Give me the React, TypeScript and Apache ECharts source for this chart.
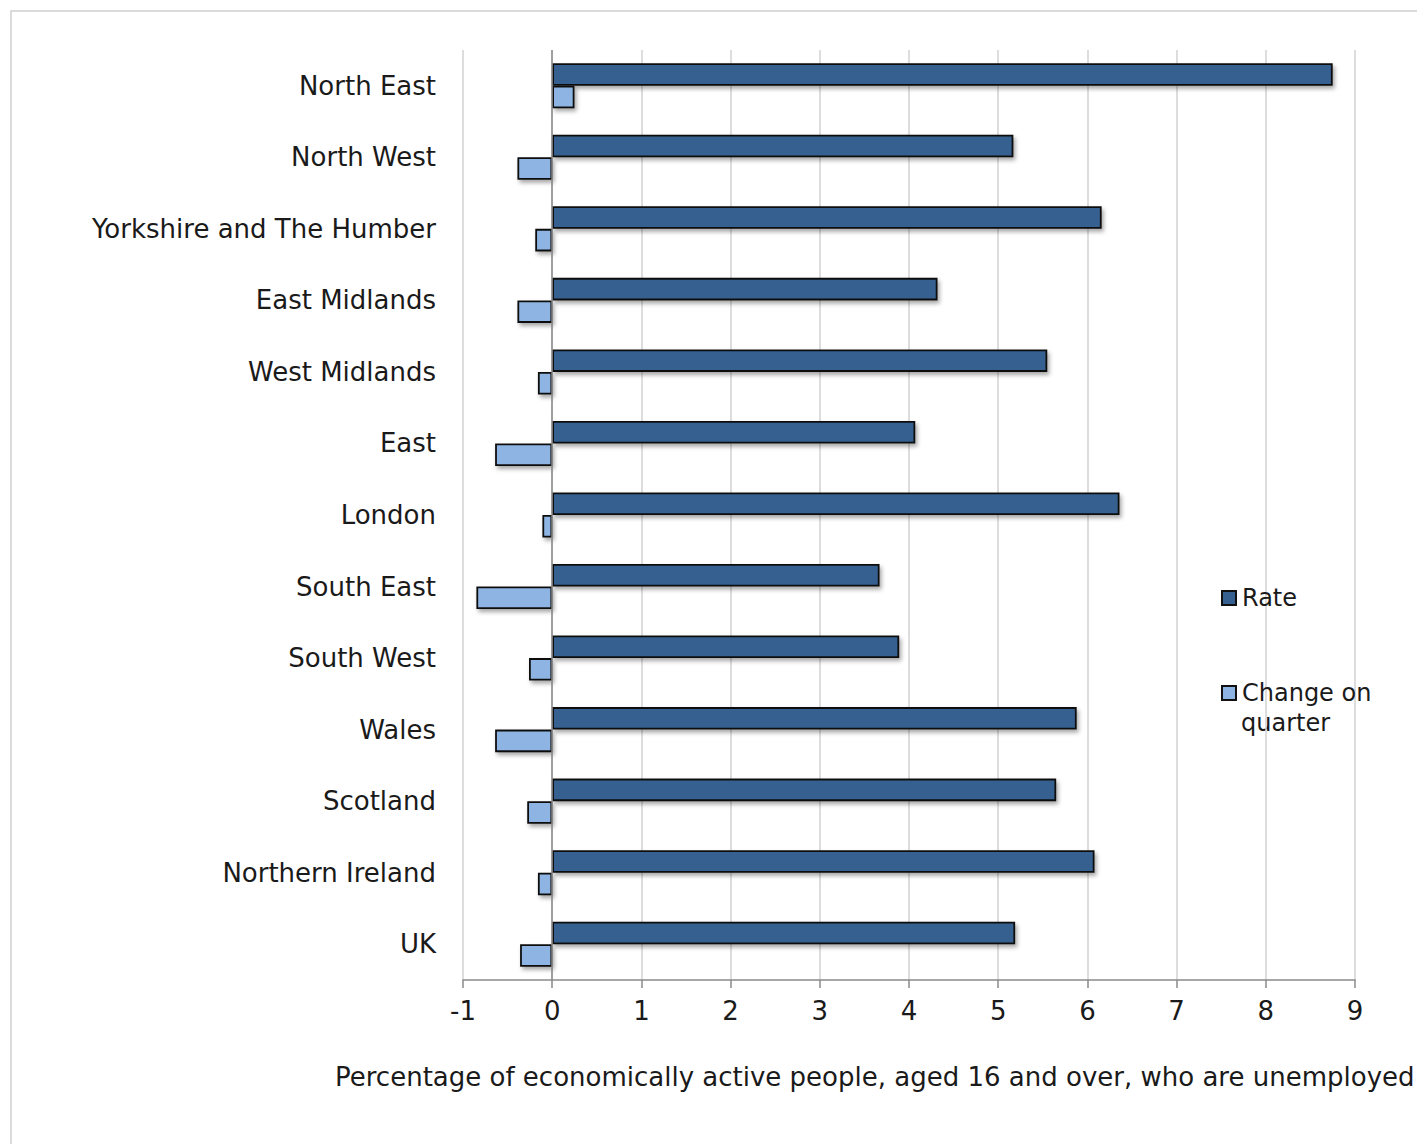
import React, { useEffect, useRef } from "react";
import * as echarts from "echarts";

const categories = [
  "North East",
  "North West",
  "Yorkshire and The Humber",
  "East Midlands",
  "West Midlands",
  "East",
  "London",
  "South East",
  "South West",
  "Wales",
  "Scotland",
  "Northern Ireland",
  "UK",
];

const rateValues = [8.75, 5.17, 6.16, 4.32, 5.55, 4.07, 6.36, 3.67, 3.89, 5.88, 5.65, 6.08, 5.19];
const changeValues = [0.25, -0.39, -0.19, -0.39, -0.16, -0.64, -0.11, -0.85, -0.26, -0.64, -0.28, -0.16, -0.36];

const xTicks = { min: -1, max: 9, interval: 1 };
const xTitle = "Percentage of economically active people, aged 16 and over, who are unemployed";
const seriesNames = ["Rate", "Change on quarter"];
const changeLegendLines = ["Change on", "quarter"];

const FONT = "DejaVu Sans";
const TEXT = "#1a1a1a";

export default function App() {
  const ref = useRef<HTMLDivElement>(null);

  useEffect(() => {
    document.body.style.margin = "0";
    const chart = echarts.init(ref.current!, null, { renderer: "svg" });
    const shadow = {
      shadowColor: "rgba(0,0,0,0.35)",
      shadowBlur: 4,
      shadowOffsetX: 2,
      shadowOffsetY: 3,
    };
    const legendCommon = {
      left: 1221,
      padding: 0,
      orient: "vertical",
      icon: "rect",
      itemWidth: 14,
      itemHeight: 14,
      textStyle: { fontSize: 24, color: TEXT, fontFamily: FONT, lineHeight: 30, padding: [0, 0, 0, 1] },
    };
    chart.setOption({
      animation: false,
      backgroundColor: "#ffffff",
      textStyle: { fontFamily: FONT },
      grid: { left: 463, right: 62, top: 50, bottom: 164, containLabel: false },
      legend: [
        { ...legendCommon, data: [seriesNames[0]], top: 583 },
        {
          ...legendCommon,
          data: [seriesNames[1]],
          top: 678,
          formatter: () => changeLegendLines[0],
        },
      ],
      xAxis: {
        type: "value",
        min: xTicks.min,
        max: xTicks.max,
        interval: xTicks.interval,
        axisLine: { show: true, lineStyle: { color: "#8a8a8a", width: 1.5 } },
        axisTick: { show: true, length: 8, lineStyle: { color: "#8a8a8a", width: 1.5 } },
        axisLabel: { fontSize: 26, color: TEXT, fontFamily: FONT, margin: 18 },
        splitLine: { show: true, lineStyle: { color: "#d2d2d2", width: 1.5 } },
      },
      yAxis: {
        type: "category",
        data: categories,
        inverse: true,
        axisLine: { show: false, onZero: false },
        axisTick: { show: false },
        axisLabel: { fontSize: 26, color: TEXT, fontFamily: FONT, margin: 27 },
        splitLine: { show: false },
      },
      graphic: [
        {
          type: "rect",
          shape: { x: 11, y: 11, width: 1430, height: 1160 },
          style: { fill: "none", stroke: "#cfcfcf", lineWidth: 1.5 },
          silent: true,
          z: -10,
        },
        {
          type: "text",
          x: 1241,
          y: 723,
          style: {
            text: changeLegendLines[1],
            fontSize: 24,
            fontFamily: FONT,
            fill: TEXT,
            verticalAlign: "middle",
          },
        },
        {
          type: "text",
          x: 335,
          y: 1077,
          style: {
            text: xTitle,
            fontSize: 26,
            fontFamily: FONT,
            fill: TEXT,
            verticalAlign: "middle",
          },
        },
      ],
      series: [
        {
          name: seriesNames[0],
          type: "bar",
          data: rateValues,
          barGap: "0%",
          barCategoryGap: "37%",
          itemStyle: { color: "#36608f", borderColor: "#111111", borderWidth: 1.8, ...shadow },
          markLine: {
            silent: true,
            symbol: ["none", "none"],
            label: { show: false },
            lineStyle: { color: "#8a8a8a", width: 1.5, type: "solid" },
            data: [{ xAxis: 0 }],
          },
        },
        {
          name: seriesNames[1],
          type: "bar",
          data: changeValues,
          barGap: "0%",
          barCategoryGap: "37%",
          itemStyle: { color: "#8db4e2", borderColor: "#111111", borderWidth: 1.8, ...shadow },
        },
      ],
    });
    return () => chart.dispose();
  }, []);

  return <div ref={ref} style={{ width: 1417, height: 1144 }} />;
}
